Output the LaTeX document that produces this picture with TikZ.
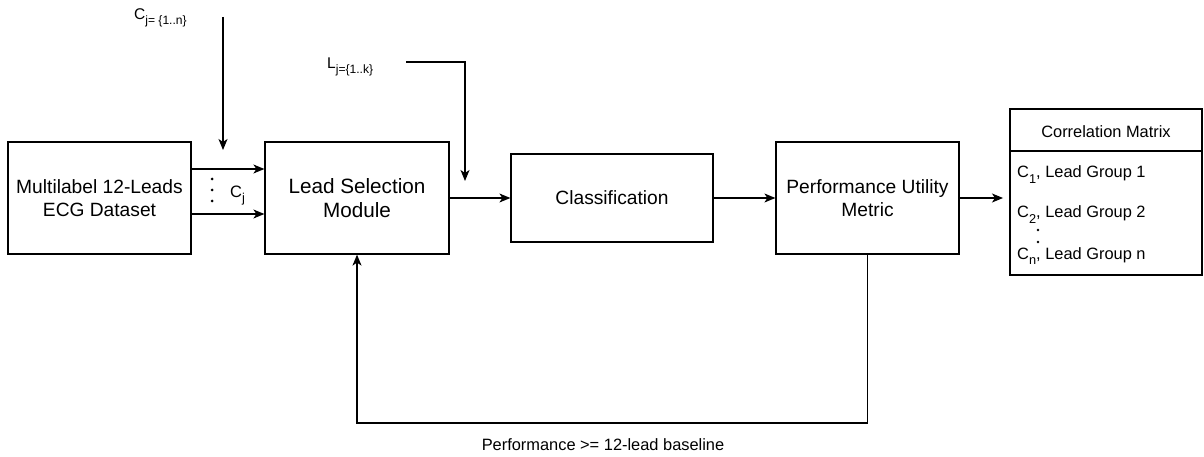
\documentclass[tikz,border=0pt]{standalone}
\usepackage{fontspec}
\setmainfont{Liberation Sans}
\usetikzlibrary{arrows.meta}
% lowered, smaller text used as a subscript
\newcommand\lowsub[1]{\raisebox{-0.32em}{\scalebox{0.78}{#1}}}
\begin{document}
\begin{tikzpicture}[x=1pt,y=-1pt,
  blk/.style={draw, line width=1.25pt, inner sep=0pt, align=center,
              font=\fontsize{19.2}{22.5}\selectfont},
  arr/.style={line width=1.25pt, -{Stealth[length=11pt,width=9pt,inset=3pt]}},
  wire/.style={line width=1.25pt},
  lbl/.style={inner sep=0pt, font=\fontsize{15.5}{18}\selectfont, anchor=base west},
  row/.style={inner sep=0pt, font=\fontsize{16.4}{20}\selectfont, anchor=base west},
  dotm/.style={fill, circle, inner sep=0pt, minimum size=3pt}]
\fill[white] (0,0) rectangle (1204,457);
\useasboundingbox (0,0) rectangle (1204,457);

% processing blocks
\node[blk, minimum width=183pt, minimum height=112pt] (ds)  at (99.5,198) {Multilabel 12-Leads\\ECG Dataset};
\node[blk, minimum width=184pt, minimum height=112pt, font=\fontsize{20.7}{24}\selectfont] (lsm) at (357,198)  {Lead Selection\\Module};
\node[blk, minimum width=202pt, minimum height=88pt]  (cls) at (612,198)  {Classification};
\node[blk, minimum width=183pt, minimum height=112pt] (pum) at (867.5,198) {Performance Utility\\Metric};

% correlation matrix table
\node[draw, line width=1.25pt, inner sep=0pt, minimum width=192pt, minimum height=166pt] (cm) at (1106,192) {};
\coordinate (hdr) at (0,151);
\draw[wire] (cm.west |- hdr) -- (cm.east |- hdr);
\node[inner sep=0pt, font=\fontsize{16.4}{20}\selectfont, anchor=base] (cmt) at (1106,138) {Correlation Matrix};
\node[row] (r1) at (1017,178) {C\lowsub{1}, Lead Group 1};
\node[row] (r2) at (1017,218) {C\lowsub{2}, Lead Group 2};
\node[row] (r3) at (1017,259) {C\lowsub{n}, Lead Group n};
\node[dotm, minimum size=2.6pt] (rd1) at (1038,230) {};
\node[dotm, minimum size=2.6pt] (rd2) at (1038,242) {};

% inputs between dataset and lead selection
\draw[arr] ([yshift=29pt]ds.east) -- ([yshift=29pt]lsm.west);
\draw[arr] ([yshift=-16pt]ds.east) -- ([yshift=-16pt]lsm.west);
\node[dotm] (d1) at (212,179) {};
\node[dotm] (d2) at (212,190) {};
\node[dotm] (d3) at (212,201) {};
\node[lbl, font=\fontsize{16.5}{18}\selectfont] (cj) at (230,197) {C\lowsub{j}};

% class label input
\node[lbl] (cjn) at (134,19.5) {C\lowsub{j= \{1..n\}}};
\coordinate (cs) at (223,17);
\coordinate (ct) at (223,150);
\draw[arr] (cs) -- (ct);

% lead subset input
\node[lbl] (lj) at (327,69) {L\lowsub{j=\{1..k\}}};
\coordinate (ls) at (406,62);
\coordinate (lt) at (465,181);
\draw[arr] (ls) -| (lt);

% main flow
\draw[arr] (lsm.east) -- (cls.west);
\draw[arr] (cls.east) -- (pum.west);
\coordinate (mtip) at (1003,198);
\draw[arr] (pum.east) -- (mtip);

% feedback loop
\coordinate (fb) at (0,423);
\draw[arr] (pum.south) -- (pum.south |- fb) -| (lsm.south);
\node[inner sep=0pt, font=\fontsize{16.4}{20}\selectfont, anchor=base] (fbl) at (603,450) {Performance >= 12-lead baseline};
\end{tikzpicture}
\end{document}
